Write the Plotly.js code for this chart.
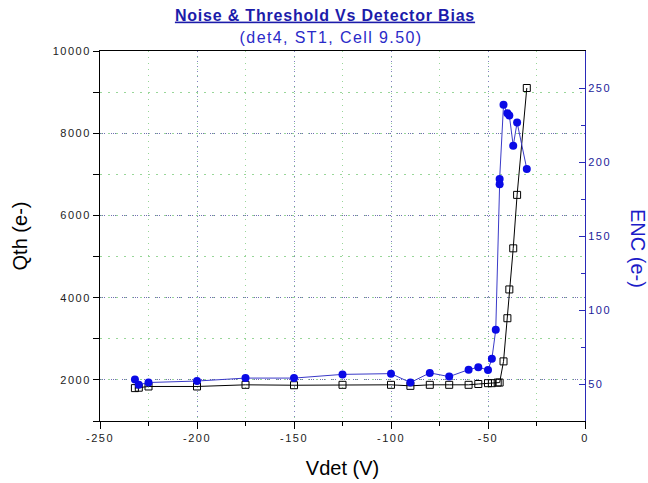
<!DOCTYPE html>
<html><head><meta charset="utf-8">
<script src="https://cdn.plot.ly/plotly-3.0.1.min.js"></script>
<style>
body{margin:0;background:#fff}
#chart{width:648px;height:483px}
.xtick text,.ytick text,.y2tick text{letter-spacing:1.5px}
.gtitle{letter-spacing:0.8px}
.annotation[data-index="0"] .annotation-text{letter-spacing:1.4px}
</style></head><body><div id="chart"></div>
<script>
// Threshold Qth (e-) vs detector bias
const vdetQth = [-232, -230, -225, -200, -175, -150, -125, -100, -90, -80, -70, -60, -55, -50, -48, -45, -44, -42, -40, -39, -37, -35, -30];
const qth     = [1800, 1810, 1840, 1840, 1880, 1870, 1880, 1880, 1855, 1880, 1880, 1880, 1900, 1920, 1920, 1935, 1935, 2450, 3500, 4200, 5200, 6500, 9100];
// Noise ENC (e-) vs detector bias
const vdetEnc = [-232, -230, -225, -200, -175, -150, -125, -100, -90, -80, -70, -60, -55, -50, -48, -46, -44, -44, -42, -40, -39, -37, -35, -30];
const enc     = [53, 49.5, 51, 52, 54, 54, 56.5, 57, 51, 57.5, 55, 59.7, 61.3, 59.5, 67, 86.6, 185, 188.5, 238.7, 233, 231.4, 211, 226.7, 195.3];
const xTicks = [-250, -200, -150, -100, -50, 0];
const xTickText = ['-250', '-200', '-150', '-100', '-50', '0'];
const yTicks = [2000, 4000, 6000, 8000, 10000];
const yTickText = ['2000', '4000', '6000', '8000', '10000'];
const y2Ticks = [50, 100, 150, 200, 250];

const font = 'Liberation Sans, Arial, sans-serif';
const blue = '#2a2ab8';
const traces = [
  {x: vdetQth, y: qth, type: 'scatter', mode: 'lines+markers', yaxis: 'y',
   line: {color: '#000000', width: 1},
   marker: {symbol: 'square-open', size: 7, color: '#000000', line: {width: 1}}},
  {x: vdetEnc, y: enc, type: 'scatter', mode: 'lines+markers', yaxis: 'y2',
   line: {color: '#3a3ac8', width: 1},
   marker: {symbol: 'circle', size: 8, color: '#0a0ae6'}}
];
const layout = {
  width: 648, height: 483,
  margin: {l: 100, r: 63, t: 51, b: 62},
  paper_bgcolor: '#ffffff', plot_bgcolor: '#ffffff',
  font: {family: font, color: '#222222', size: 11},
  showlegend: false,
  title: {text: '<u>Noise & Threshold Vs Detector Bias</u>', font: {family: font, size: 16, weight: 'bold', color: '#1c1caa'},
          x: 325/648, xanchor: 'center', y: 1 - 15/483, yanchor: 'middle', yref: 'container'},
  annotations: [
    {text: '(det4, ST1, Cell 9.50)', xref: 'paper', yref: 'paper', x: (331-100)/485, y: (421-38)/370, xanchor: 'center', yanchor: 'middle',
     showarrow: false, font: {family: font, size: 16, color: '#2a2ac8'}},
    {text: 'ENC (e-)', xref: 'paper', yref: 'paper', x: 1 + (638-585)/485, y: (421-248)/370, xanchor: 'center', yanchor: 'middle',
     textangle: 90, showarrow: false, font: {family: font, size: 20, color: '#1c1cc8'}}
  ],
  xaxis: {
    range: [-250, 0], tickvals: xTicks, ticktext: xTickText, ticks: 'outside', ticklen: 7, tickcolor: '#000',
    showline: true, linecolor: '#000', linewidth: 1, mirror: true, zeroline: false,
    showgrid: true, gridcolor: '#8080c0', griddash: '1px,4px', gridwidth: 1,
    minor: {dtick: 25, tick0: -250, ticks: 'outside', ticklen: 4, tickcolor: '#000', showgrid: true, gridcolor: '#99d699', griddash: '1px,5px', gridwidth: 1},
    tickfont: {family: font, size: 11, color: '#222'},
    title: {text: 'Vdet (V)', font: {family: font, size: 20, color: '#000'}, standoff: 17}
  },
  yaxis: {
    range: [1000, 10000], tickvals: yTicks, ticktext: yTickText, ticks: 'outside', ticklen: 6, tickcolor: '#000',
    showline: true, linecolor: '#000', linewidth: 1, zeroline: false,
    showgrid: true, gridcolor: '#7070b0', griddash: '1px,1px,1px,1px,1px,6px', gridwidth: 1,
    minor: {dtick: 1000, tick0: 0, ticks: 'outside', ticklen: 6, tickcolor: '#000', showgrid: true, gridcolor: '#99d699', griddash: '2px,6px', gridwidth: 1},
    tickfont: {family: font, size: 11, color: '#222'},
    title: {text: 'Qth (e-)', font: {family: font, size: 20, color: '#000'}, standoff: 19}
  },
  yaxis2: {
    overlaying: 'y', side: 'right', range: [25, 275], tickvals: y2Ticks,
    ticks: 'inside', ticklen: 6, tickcolor: blue,
    showline: true, linecolor: blue, linewidth: 1, zeroline: false, showgrid: false,
    minor: {dtick: 25, tick0: 0, ticks: 'inside', ticklen: 4, tickcolor: blue, showgrid: false},
    tickfont: {family: font, size: 11, color: '#1c1c9a'}
  }
};
Plotly.newPlot('chart', traces, layout, {displayModeBar: false, staticPlot: true});
</script></body></html>
